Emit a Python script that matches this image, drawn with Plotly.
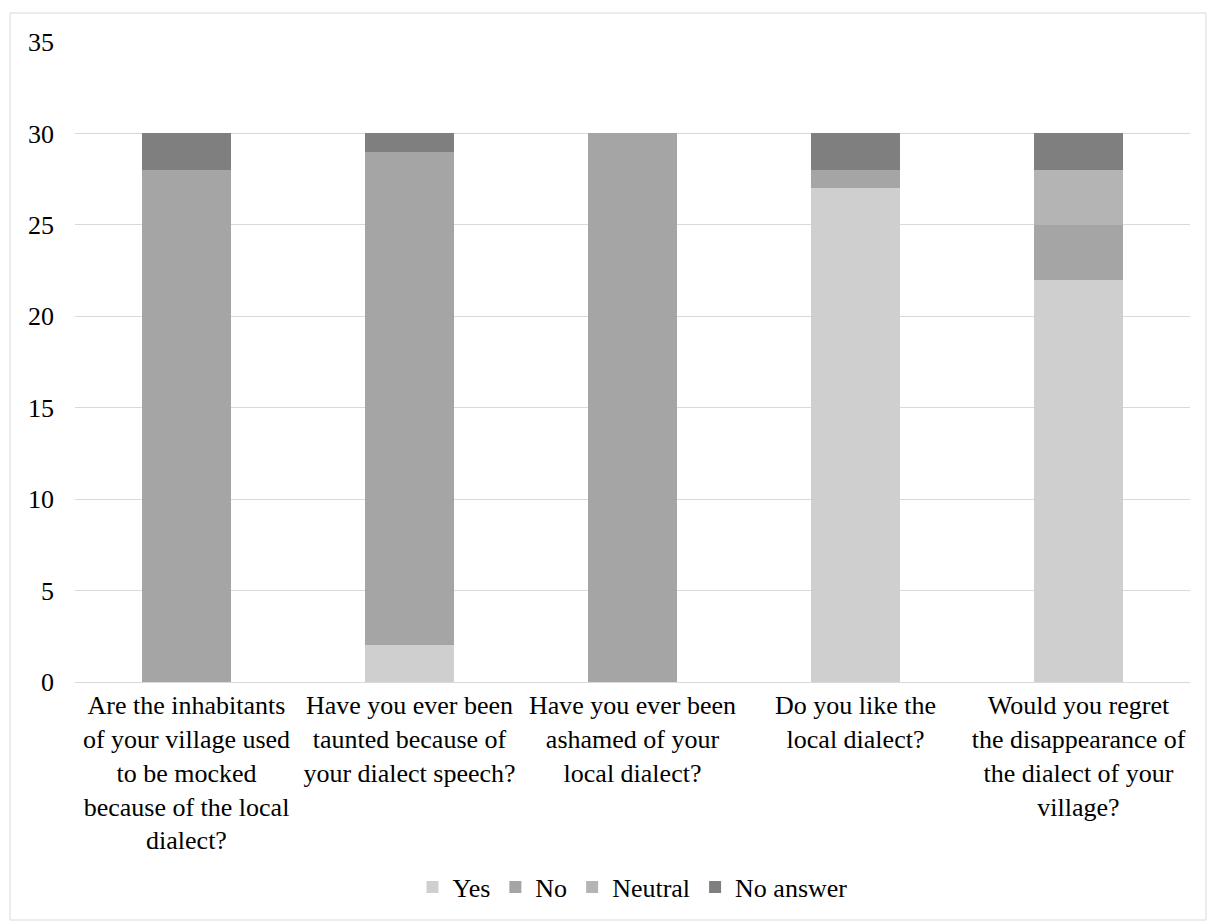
import plotly.graph_objects as go

categories = [
    "Are the inhabitants<br>of your village used<br>to be mocked<br>because of the local<br>dialect?",
    "Have you ever been<br>taunted because of<br>your dialect speech?",
    "Have you ever been<br>ashamed of your<br>local dialect?",
    "Do you like the<br>local dialect?",
    "Would you regret<br>the disappearance of<br>the dialect of your<br>village?",
]
yes = [0, 2, 0, 27, 22]
no = [28, 27, 30, 1, 3]
neutral = [0, 0, 0, 0, 3]
no_answer = [2, 1, 0, 2, 2]
y_ticks = [0, 5, 10, 15, 20, 25, 30, 35]

series = [("Yes", yes, "#d0cfd0"), ("No", no, "#a5a5a5"),
          ("Neutral", neutral, "#b4b4b4"), ("No answer", no_answer, "#7f7f7f")]

fig = go.Figure()
for name, vals, col in series:
    fig.add_trace(go.Bar(x=categories, y=vals, name=name, marker_color=col,
                         marker_line_width=0, width=0.4))

W, H = 1208, 922
ml, mr, mt, mb = 75, 18, 42, 240
pw, ph = W - ml - mr, H - mt - mb

def px2paper(x, y):
    return (x - ml) / pw, (H - mb - y) / ph

x0, y0 = px2paper(10, 13)
x1, y1 = px2paper(1206, 920)

fig.update_layout(
    barmode="stack",
    width=W, height=H,
    margin=dict(l=ml, r=mr, t=mt, b=mb),
    paper_bgcolor="white", plot_bgcolor="white",
    font=dict(family="Liberation Serif, Times New Roman, serif", size=26, color="#000000"),
    bargap=0.6,
    yaxis=dict(range=[0, 35], tickvals=y_ticks, showgrid=True, gridcolor="#d9d9d9",
               gridwidth=1, zeroline=False, showline=False, ticklabelstandoff=20,
               ticks=""),
    xaxis=dict(showline=True, linecolor="#d9d9d9", linewidth=1, ticks="",
               tickangle=0, ticklabelstandoff=0),
    legend=dict(orientation="h", x=0.5, xanchor="center", y=(682 - 887) / ph,
                yanchor="middle", traceorder="normal", font=dict(size=26),
                itemwidth=30, tracegroupgap=0),
    shapes=[dict(type="rect", xref="paper", yref="paper", x0=x0, y0=y1, x1=x1, y1=y0,
                 line=dict(color="#d9d9d9", width=1), layer="below")],
)

fig.write_html("out.html")
